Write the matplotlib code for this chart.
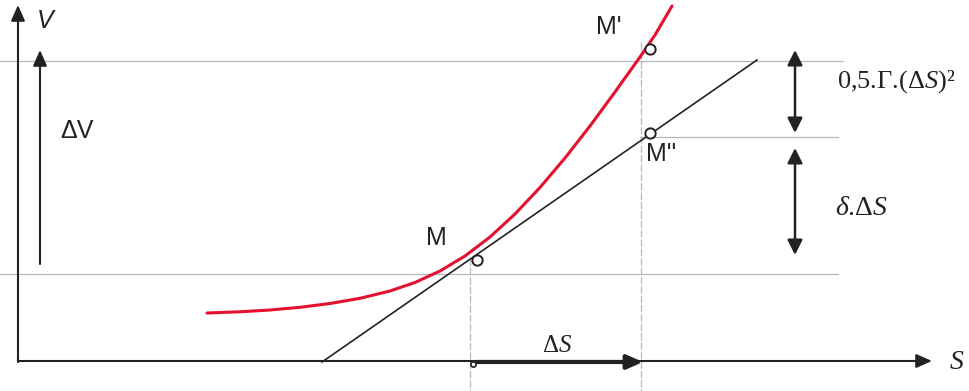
import matplotlib
matplotlib.use('Agg')
import matplotlib.pyplot as plt

# courbe V(S) (pixels)
curve_x = [207, 240, 270, 300, 330, 360, 390, 415, 440, 465, 490, 515, 540, 565, 590, 615, 640, 655, 672]
curve_y = [313, 311.8, 310, 307.3, 303.5, 298.3, 291, 282.5, 271, 256, 237, 214, 187.5, 158, 126, 92, 57, 35, 6]

# tangente en M
tangent_x = [322, 757]
tangent_y = [362, 60]

# points M, M', M''
pts_x = [477, 650, 650]
pts_y = [260, 49, 133]
pts_lab = ['M', "M'", "M''"]
lab_x = [436, 609, 661]
lab_y = [238, 27, 154]

# niveaux horizontaux (V) et verticaux (S)
h_lines_y = [61, 137, 274]
h_lines_x0 = [0, 640, 0]
h_lines_x1 = [843, 838, 838]
v_lines_x = [470, 641]
v_lines_y0 = [258, 42]

plt.rcParams['font.family'] = ['Liberation Sans', 'DejaVu Sans']
plt.rcParams['mathtext.fontset'] = 'custom'
plt.rcParams['mathtext.rm'] = 'Liberation Serif'
plt.rcParams['mathtext.it'] = 'Liberation Serif:italic'

fig = plt.figure(figsize=(9.69, 3.91), dpi=100)
ax = fig.add_axes([0, 0, 1, 1])
ax.set_xlim(0, 969)
ax.set_ylim(391, 0)
ax.axis('off')

gray = '#b8b8b8'
dark = '#222222'

# lignes guides
for y, x0, x1 in zip(h_lines_y, h_lines_x0, h_lines_x1):
    ax.plot([x0, x1], [y, y], color=gray, lw=0.9, zorder=1)
for x, y0 in zip(v_lines_x, v_lines_y0):
    ax.plot([x, x], [y0, 391], color=gray, lw=0.9, ls=(0, (6, 1.5)), zorder=1)

# axes
def arrow(x0, y0, x1, y1, lw=1.5, hw=0.42, hl=0.95):
    ax.annotate('', xy=(x1, y1), xytext=(x0, y0),
                arrowprops=dict(arrowstyle='-|>,head_width=%s,head_length=%s' % (hw, hl),
                                color=dark, lw=lw, shrinkA=0, shrinkB=0))

arrow(18, 362, 18, 5)            # axe V
arrow(18, 361, 932, 361)         # axe S
arrow(40, 264, 40, 50)           # delta V
arrow(476, 362, 643, 362, lw=3)  # delta S

# doubles fleches a droite
for y0, y1 in [(50, 133), (148, 255)]:
    ax.annotate('', xy=(795, y1), xytext=(795, y0),
                arrowprops=dict(arrowstyle='<|-|>,head_width=0.45,head_length=0.9',
                                color=dark, lw=1.8, shrinkA=0, shrinkB=0))

# tangente et courbe
ax.plot(tangent_x, tangent_y, color=dark, lw=1.2, zorder=3)
ax.plot(curve_x, curve_y, color='#e3102e', lw=2.2, zorder=4,
        solid_capstyle='round', solid_joinstyle='round')

# points
ax.scatter(pts_x, pts_y, s=55, facecolor='white', edgecolor=dark, lw=1.4, zorder=5)
ax.scatter([473], [364], s=14, facecolor='white', edgecolor=dark, lw=1.2, zorder=5)

for t, x, y in zip(pts_lab, lab_x, lab_y):
    ax.text(x, y, t, fontsize=18, ha='center', va='center', color=dark)

# libelles
ax.text(45, 21, 'V', fontsize=18, style='italic', ha='center', va='center', color=dark)
ax.text(77, 131, '\u0394V', fontsize=18, ha='center', va='center', color=dark)
ax.text(957, 362, r'$S$', fontsize=20, ha='center', va='center', color=dark)
ax.text(557, 345, r'$\text{Δ}S$', fontsize=18, ha='center', va='center', color=dark)
ax.text(837, 82, r'$\text{0,5.Γ.(Δ}S\text{)²}$', fontsize=19,
        ha='left', va='center', color=dark)
ax.text(835, 208, r'$\delta\text{.Δ}S$', fontsize=20, ha='left', va='center', color=dark)

fig.savefig('out.png', dpi=100)
